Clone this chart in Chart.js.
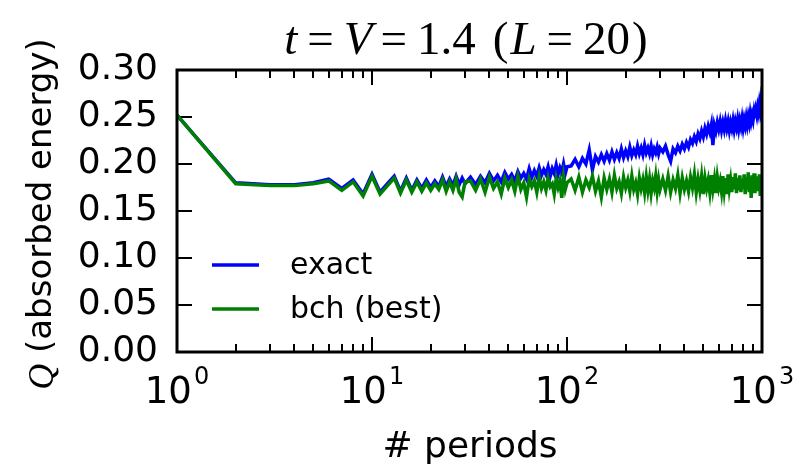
<!DOCTYPE html>
<html>
<head>
<meta charset="utf-8">
<script src="https://cdn.jsdelivr.net/npm/chart.js@4"></script>
<style>
html,body{margin:0;padding:0;background:#fff;}
#wrap{width:796px;height:471px;position:relative;}
</style>
</head>
<body>
<div id="wrap"><canvas id="c" width="796" height="471"></canvas></div>
<script>
// ---- data ----
const periods = [
 1,2,3,4,5,6,7,8,9,10,11,12,13,14,15,16,17,18,19,20,21,22,23,24,25,26,27,28,29,30,
 32,34,36,38,40,42,44,46,48,50,52,54,56,58,60,62,64,66,68,70,72,74,76,78,80,82,84,86,88,90,92,94,96,98,100,
 105,110,115,120,125,130,135,140,145,150,155,160,165,170,175,180,185,190,195,200,
 205,210,215,220,225,230,235,240,245,250,255,260,265,270,275,280,285,290,295,300,
 310,320,330,340,350,360,370,380,390,400,410,420,430,440,450,460,470,480,490,500,
 510,520,530,540,550,560,570,580,590,600,610,620,630,640,650,660,670,680,690,700,
 710,720,730,740,750,760,770,780,790,800,810,820,830,840,850,860,870,880,890,900,
 910,920,930,940,950,960,970,980,990,1000
];
const exactQ = [
 0.252,0.180,0.178,0.178,0.180,0.184,0.174,0.183,0.168,0.189,0.170,0.179,0.187,0.171,0.185,0.172,0.183,0.174,0.183,0.175,
 0.182,0.176,0.186,0.176,0.184,0.177,0.187,0.178,0.185,0.179,
 0.186,0.178,0.187,0.180,0.190,0.182,0.188,0.181,0.191,0.184,0.189,0.182,0.192,0.185,0.190,0.184,0.195,0.186,0.193,0.187,
 0.196,0.188,0.194,0.189,0.197,0.187,0.195,0.190,0.199,0.189,0.196,0.191,0.200,0.190,0.197,
 0.198,0.205,0.197,0.206,0.200,0.215,0.194,0.208,0.202,0.210,0.203,0.211,0.204,0.213,0.205,0.212,0.206,0.216,0.207,0.214,
 0.208,0.218,0.209,0.215,0.210,0.219,0.211,0.217,0.210,0.220,0.212,0.217,0.211,0.219,0.210,0.216,0.212,0.218,0.211,0.217,
 0.213,0.219,0.210,0.203,0.216,0.212,0.219,0.214,0.221,0.216,0.223,0.218,0.226,0.222,0.229,0.224,0.232,0.227,0.235,0.229,
 0.238,0.232,0.240,0.234,0.242,0.220,0.241,0.235,0.244,0.237,0.245,0.236,0.244,0.237,0.246,0.238,0.245,0.236,0.244,0.238,
 0.246,0.237,0.245,0.239,0.247,0.238,0.246,0.240,0.248,0.239,0.247,0.241,0.249,0.242,0.250,0.244,0.253,0.246,0.252,0.247,
 0.255,0.249,0.257,0.252,0.260,0.255,0.264,0.258,0.268,0.262
];
const bchQ = [
 0.252,0.179,0.177,0.177,0.179,0.182,0.172,0.181,0.166,0.187,0.168,0.177,0.185,0.169,0.183,0.170,0.181,0.171,0.180,0.172,
 0.179,0.173,0.183,0.171,0.181,0.172,0.184,0.170,0.165,0.181,
 0.182,0.172,0.184,0.170,0.186,0.174,0.181,0.168,0.185,0.175,0.183,0.171,0.187,0.173,0.180,0.165,0.184,0.176,0.182,0.170,
 0.186,0.174,0.181,0.172,0.185,0.176,0.179,0.168,0.184,0.175,0.182,0.164,0.186,0.173,0.180,
 0.184,0.172,0.186,0.170,0.183,0.175,0.187,0.171,0.182,0.165,0.185,0.173,0.184,0.170,0.188,0.174,0.181,0.169,0.186,0.175,
 0.183,0.171,0.187,0.173,0.180,0.168,0.185,0.174,0.183,0.170,0.186,0.172,0.184,0.169,0.182,0.175,0.187,0.171,0.183,0.173,
 0.184,0.172,0.187,0.170,0.183,0.174,0.188,0.169,0.185,0.173,0.182,0.171,0.186,0.175,0.189,0.170,0.184,0.172,0.187,0.168,
 0.185,0.174,0.183,0.170,0.188,0.173,0.184,0.169,0.186,0.175,0.182,0.171,0.187,0.172,0.185,0.168,0.189,0.174,0.183,0.170,
 0.186,0.173,0.190,0.169,0.185,0.172,0.188,0.170,0.184,0.174,0.189,0.168,0.186,0.173,0.191,0.170,0.185,0.164,0.188,0.172,
 0.190,0.169,0.187,0.175,0.186,0.171,0.189,0.166,0.184,0.176
];
const seriesNames = ['exact', 'bch (best)'];
const yTickValues = [0, 0.05, 0.10, 0.15, 0.20, 0.25, 0.30];
const xMajorTicks = [1, 10, 100, 1000];
const xTickBase = '10';
const xTickExponents = ['0', '1', '2', '3'];
const xMinorTicks = [2,3,4,5,6,7,8,9,20,30,40,50,60,70,80,90,200,300,400,500,600,700,800,900];

// ---- chart ----
const SANS = '"DejaVu Sans", sans-serif';
const SERIF = '"Liberation Serif", "DejaVu Serif", serif';

function pts(ys){ return periods.map((p,i)=>({x:p, y:ys[i]})); }

// frame around the plot area
const frame = {
  id: 'frame',
  afterDraw(chart){
    const ctx = chart.ctx;
    const a = chart.chartArea;
    ctx.save();
    ctx.strokeStyle = '#000000';
    ctx.lineWidth = 3;
    ctx.strokeRect(a.left, a.top, a.right - a.left, a.bottom - a.top);
    ctx.restore();
  }
};

const decor = {
  id: 'decor',
  afterDatasetsDraw(chart){
    const {ctx, scales:{x}} = chart;
    ctx.save();
    const line = (x1,y1,x2,y2)=>{ctx.beginPath();ctx.moveTo(x1,y1);ctx.lineTo(x2,y2);ctx.stroke();};

    // x tick labels (10 with superscript exponent)
    ctx.fillStyle = '#000';
    ctx.textBaseline = 'alphabetic';
    ctx.textAlign = 'left';
    xMajorTicks.forEach((v,i)=>{
      const px = x.getPixelForValue(v);
      ctx.font = '37px ' + SANS; const wb = ctx.measureText(xTickBase).width;
      ctx.font = '24px ' + SANS; const we = ctx.measureText(xTickExponents[i]).width;
      const lx = px - (wb + 2 + we)/2;
      ctx.font = '37px ' + SANS; ctx.fillText(xTickBase, lx, 403);
      ctx.font = '24px ' + SANS; ctx.fillText(xTickExponents[i], lx + wb + 2, 384);
    });

    // legend
    const ds = chart.data.datasets;
    const rows = [265, 309];
    const legendOrder = [1, 0];
    legendOrder.forEach((di, r)=>{
      const d = ds[di];
      ctx.strokeStyle = d.borderColor;
      ctx.lineWidth = 3.5;
      line(212, rows[r], 259, rows[r]);
      ctx.fillStyle = '#000';
      ctx.font = '30px ' + SANS;
      ctx.textBaseline = 'middle';
      ctx.textAlign = 'left';
      ctx.fillText(d.label, 290, rows[r]+1);
    });

    // title (mixed math text)
    const segs = [
      ['t', true, 0], ['=', false, 10], ['V', true, 10], ['=', false, 8], ['1.4', false, 10],
      ['(', false, 17], ['L', true, 2], ['=', false, 10], ['20', false, 10], [')', false, 2]
    ];
    const fs = 47;
    const fontOf = it => (it ? 'italic ' : '') + fs + 'px ' + SERIF;
    let total = 0;
    segs.forEach(s=>{ ctx.font = fontOf(s[1]); total += s[2] + ctx.measureText(s[0]).width; });
    let cx = 466 - total/2;
    ctx.fillStyle = '#000';
    ctx.textBaseline = 'alphabetic';
    ctx.textAlign = 'left';
    segs.forEach(s=>{ ctx.font = fontOf(s[1]); cx += s[2]; ctx.fillText(s[0], cx, 54); cx += ctx.measureText(s[0]).width; });

    // x-axis title
    ctx.font = '36px ' + SANS;
    ctx.textAlign = 'center';
    ctx.fillText('# periods', 470, 457);

    // y-axis title
    ctx.translate(42, 214);
    ctx.rotate(-Math.PI/2);
    ctx.textBaseline = 'middle';
    ctx.textAlign = 'left';
    const qFont = 'italic 36px ' + SERIF;
    const restFont = '34px ' + SANS;
    const rest = ' (absorbed energy)';
    ctx.font = qFont; const wq = ctx.measureText('Q').width;
    ctx.font = restFont; const wr = ctx.measureText(rest).width;
    const tx = -(wq + wr)/2;
    ctx.font = qFont; ctx.fillText('Q', tx, 2);
    ctx.font = restFont; ctx.fillText(rest, tx + wq, 0);
    ctx.restore();
  }
};

// inward tick marks drawn by the scales themselves (negative tick length)
function tickGrid(len){
  return { display: true, drawOnChartArea: false, drawTicks: true, tickLength: -len,
           color: '#000000', tickColor: '#000000', lineWidth: 2, tickWidth: 2 };
}
function logAxis(position, tickVals, len, weight){
  return {
    type: 'logarithmic', min: 1, max: 1000, position, weight,
    grid: tickGrid(len), border: { display: false },
    afterBuildTicks(s){ s.ticks = tickVals.map(v=>({value:v})); },
    afterFit(s){ s.height = 0; s.paddingLeft = 0; s.paddingRight = 0; },
    ticks: { display: false }
  };
}

new Chart(document.getElementById('c'), {
  type: 'line',
  data: {
    datasets: [
      { label: seriesNames[1], data: pts(bchQ), borderColor: '#008000', borderWidth: 3.5, pointRadius: 0, tension: 0, fill: false },
      { label: seriesNames[0], data: pts(exactQ), borderColor: '#0000ff', borderWidth: 3.5, pointRadius: 0, tension: 0, fill: false }
    ]
  },
  options: {
    responsive: false,
    animation: false,
    layout: { padding: { left: 0, right: 34, top: 70, bottom: 0 } },
    plugins: { legend: { display: false }, tooltip: { enabled: false } },
    scales: {
      x: {
        type: 'logarithmic', min: 1, max: 1000, position: 'bottom', weight: 2,
        grid: tickGrid(8), border: { display: false },
        afterBuildTicks(s){ s.ticks = xMinorTicks.map(v=>({value:v})); },
        afterFit(s){ s.height = 119; s.paddingLeft = 0; s.paddingRight = 0; },
        ticks: { display: false }
      },
      xMajBottom: logAxis('bottom', xMajorTicks, 15, 0),
      xMinTop: logAxis('top', xMinorTicks, 8, 0),
      xMajTop: logAxis('top', xMajorTicks, 15, 1),
      y: {
        type: 'linear', min: 0, max: 0.30, position: 'left',
        grid: tickGrid(15), border: { display: false },
        afterBuildTicks(s){ s.ticks = yTickValues.map(v=>({value:v})); },
        afterFit(s){ s.width = 177; s.paddingTop = 0; s.paddingBottom = 0; },
        ticks: {
          padding: 34, color: '#000', font: { family: SANS, size: 36 },
          callback(v){ return Number(v).toFixed(2); }
        }
      },
      yRight: {
        type: 'linear', min: 0, max: 0.30, position: 'right',
        grid: tickGrid(15), border: { display: false },
        afterBuildTicks(s){ s.ticks = yTickValues.map(v=>({value:v})); },
        afterFit(s){ s.width = 0; s.paddingTop = 0; s.paddingBottom = 0; },
        ticks: { display: false }
      }
    }
  },
  plugins: [frame, decor]
});
</script>
</body>
</html>
